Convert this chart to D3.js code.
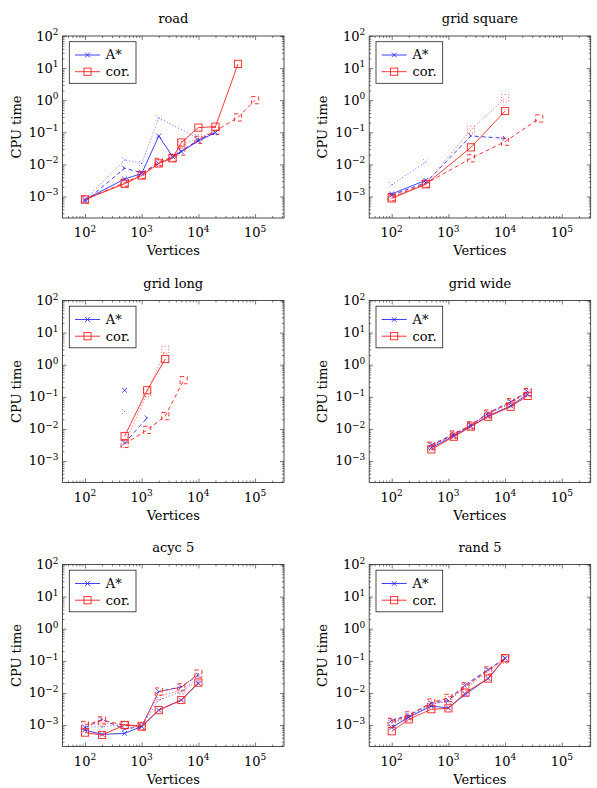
<!DOCTYPE html>
<html>
<head>
<meta charset="utf-8">
<script src="https://cdn.jsdelivr.net/npm/d3@7"></script>
<style>
body { margin: 0; background: #fff; }
text { font-family: "DejaVu Serif", serif; fill: #000; }
</style>
</head>
<body>
<svg id="chart"></svg>
<script>
// panel titles and legend
var titles = ["road", "grid square", "grid long", "grid wide", "acyc 5", "rand 5"];
var legendNames = ["A*", "cor."];

// road
var roadX = [100, 500, 1000, 2000, 3500, 5000, 10000, 20000, 50000, 100000];
var roadAstar       = [8e-4, 3.5e-3, 5.2e-3, 0.077, 0.0175, 0.025, 0.054, 0.098, null, null];
var roadCor         = [8.1e-4, 2.5e-3, 4.5e-3, 0.0107, 0.0155, 0.048, 0.14, 0.15, 13.5, null];
var roadAstarDash   = [7e-4, 7.6e-3, 5.5e-3, 0.0107, 0.018, 0.026, 0.058, 0.1, null, null];
var roadAstarDot    = [8e-4, 0.0138, 0.0107, 0.28, null, null, 0.065, null, null, null];
var roadCorDash     = [8e-4, 2.7e-3, 4.7e-3, 0.012, 0.016, 0.025, 0.058, 0.11, 0.29, 1.0];
var roadCorDot      = [8e-4, 2.6e-3, 4.6e-3, 0.011, 0.016, 0.04, 0.065, 0.11, null, null];

// grid square
var sqX = [100, 400, 2500, 10000, 40000];
var sqAstar     = [1.2e-3, 3.2e-3, null, null, null];
var sqCor       = [8.7e-4, 2.4e-3, 0.034, 0.46, null];
var sqAstarDash = [1.1e-3, 2.7e-3, 0.077, 0.065, null];
var sqAstarDot  = [2.3e-3, 0.012, null, null, null];
var sqCorDash   = [9.5e-4, 2.5e-3, 0.0155, 0.051, 0.27];
var sqCorDot    = [9.5e-4, 2.5e-3, 0.12, 1.15, null];

// grid long
var longX = [500, 1250, 2600, 5500];
var longAstar     = [0.16, null, null, null];
var longCor       = [6e-3, 0.16, 1.5, null];
var longAstarDash = [3.6e-3, 0.022, null, null];
var longAstarDot  = [0.035, null, null, null];
var longCorDash   = [3.4e-3, 9.3e-3, 0.025, 0.33];
var longCorDot    = [3.4e-3, 0.13, 2.9, null];

// grid wide
var wideX = [500, 1250, 2500, 5000, 12500, 25000];
var wideAstar     = [2.6e-3, 6e-3, 0.012, 0.025, 0.052, 0.12];
var wideCor       = [2.3e-3, 5.7e-3, 0.0118, 0.024, 0.049, 0.107];
var wideAstarDash = [3.2e-3, 6.9e-3, 0.0132, 0.031, 0.071, 0.145];
var wideAstarDot  = [3e-3, 6.5e-3, 0.013, 0.029, 0.065, 0.14];
var wideCorDash   = [3e-3, 6.7e-3, 0.013, 0.03, 0.068, 0.14];
var wideCorDot    = [2.8e-3, 6.3e-3, 0.0125, 0.028, 0.062, 0.13];

// acyc 5
var acycX = [100, 200, 500, 1000, 2000, 5000, 10000];
var acycAstar     = [6.9e-4, 5.1e-4, 5.5e-4, 9e-4, 2.9e-3, 6e-3, 0.02];
var acycCor       = [5.8e-4, 4.9e-4, 1e-3, 9e-4, 2.9e-3, 6e-3, 0.021];
var acycAstarDash = [8.3e-4, 1.5e-3, 7.5e-4, 9e-4, 0.011, 0.0155, 0.036];
var acycAstarDot  = [8.7e-4, 8.7e-4, 1.05e-3, 9e-4, 6e-3, 0.011, 0.025];
var acycCorDash   = [1e-3, 1.4e-3, 1e-3, 9e-4, 0.011, 0.015, 0.04];
var acycCorDot    = [9e-4, 1.2e-3, 1e-3, 9.5e-4, 8e-3, 0.012, 0.03];

// rand 5
var randX = [100, 200, 500, 1000, 2000, 5000, 10000];
var randAstar     = [8.3e-4, 1.75e-3, 3.9e-3, 3.4e-3, 9.1e-3, 0.028, 0.12];
var randCor       = [6.4e-4, 1.5e-3, 3.1e-3, 3.3e-3, 0.0102, 0.028, 0.12];
var randAstarDash = [1.4e-3, 2e-3, 4.8e-3, 5.8e-3, 0.018, 0.053, 0.12];
var randAstarDot  = [1.2e-3, 1.8e-3, 4.5e-3, 5.5e-3, 0.016, 0.05, 0.12];
var randCorDash   = [1.25e-3, 2e-3, 5e-3, 7e-3, 0.016, 0.05, 0.12];
var randCorDot    = [1.1e-3, 1.7e-3, 4.3e-3, 6e-3, 0.014, 0.045, 0.11];

// order of series in each panel: A*, cor., A* dashed, A* dotted, cor. dashed, cor. dotted
var panels = [
  [roadX, [roadAstar, roadCor, roadAstarDash, roadAstarDot, roadCorDash, roadCorDot]],
  [sqX,   [sqAstar, sqCor, sqAstarDash, sqAstarDot, sqCorDash, sqCorDot]],
  [longX, [longAstar, longCor, longAstarDash, longAstarDot, longCorDash, longCorDot]],
  [wideX, [wideAstar, wideCor, wideAstarDash, wideAstarDot, wideCorDash, wideCorDot]],
  [acycX, [acycAstar, acycCor, acycAstarDash, acycAstarDot, acycCorDash, acycCorDot]],
  [randX, [randAstar, randCor, randAstarDash, randAstarDot, randCorDash, randCorDot]]
];

var blue = "#2b2bff", red = "#ff2020";
var styles = [
  {color: blue, mark: "x", dash: null},
  {color: red,  mark: "sq", dash: null},
  {color: blue, mark: "x", dash: "4,3"},
  {color: blue, mark: "x", dash: "0.8,2.4"},
  {color: red,  mark: "sq", dash: "4,3"},
  {color: red,  mark: "sq", dash: "0.8,2.4"}
];

var svgWidth = 597, svgHeight = 788;
var svg = d3.select("#chart").attr("width", svgWidth).attr("height", svgHeight);

var colLeft = [62.5, 369.2], rowTop = [36, 300.5, 564.5];
var plotW = 221.5, plotH = 182;

var x = d3.scaleLog().domain([Math.pow(10, 1.603), Math.pow(10, 5.51)]).range([0, plotW]);
var y = d3.scaleLog().domain([Math.pow(10, -3.67), 100]).range([plotH, 0]);

function logTicks(scale) {
  var dom = scale.domain(), major = [], minor = [];
  for (var e = Math.floor(Math.log10(dom[0])); e <= Math.ceil(Math.log10(dom[1])); e++) {
    for (var k = 1; k < 10; k++) {
      var v = k * Math.pow(10, e);
      if (v < dom[0] || v > dom[1]) continue;
      if (k === 1) major.push(v); else minor.push(v);
    }
  }
  return {major: major, minor: minor};
}
var xt = logTicks(x), yt = logTicks(y);

function drawMark(g, type, color, dash) {
  if (type === "x") {
    g.append("path").attr("d", "M-2.4,-2.4L2.4,2.4M-2.4,2.4L2.4,-2.4");
  } else {
    g.append("rect").attr("x", -3.6).attr("y", -3.6).attr("width", 7.2).attr("height", 7.2);
  }
  g.selectAll("path,rect")
    .attr("fill", "none")
    .attr("stroke", color)
    .attr("stroke-width", 0.9)
    .attr("stroke-dasharray", dash);
}

function addAxis(g, axis, tr) {
  var a = g.append("g").attr("transform", tr).call(axis);
  a.select(".domain").remove();
  a.selectAll("line").attr("stroke", "#222").attr("stroke-width", 0.6);
  a.selectAll("text").remove();
}

function supLabel(sel, exp) {
  sel.append("tspan").text("10");
  sel.append("tspan").attr("font-size", 9).attr("dy", -5.5).text(exp < 0 ? "\u2212" + (-exp) : exp);
}

panels.forEach(function(p, i) {
  var xs = p[0], series = p[1];
  var left = colLeft[i % 2], top = rowTop[Math.floor(i / 2)];
  var g = svg.append("g").attr("transform", "translate(" + left + "," + top + ")");

  // ticks on all four sides, pointing inward
  [[xt.major, 4], [xt.minor, 2]].forEach(function(t) {
    addAxis(g, d3.axisBottom(x).tickValues(t[0]).tickSize(-t[1]), "translate(0," + plotH + ")");
    addAxis(g, d3.axisTop(x).tickValues(t[0]).tickSize(-t[1]), "translate(0,0)");
  });
  [[yt.major, 4], [yt.minor, 2]].forEach(function(t) {
    addAxis(g, d3.axisLeft(y).tickValues(t[0]).tickSize(-t[1]), "translate(0,0)");
    addAxis(g, d3.axisRight(y).tickValues(t[0]).tickSize(-t[1]), "translate(" + plotW + ",0)");
  });

  g.append("rect").attr("width", plotW).attr("height", plotH)
    .attr("fill", "none").attr("stroke", "#222").attr("stroke-width", 0.8);

  // tick labels
  xt.major.forEach(function(v) {
    var t = g.append("text").attr("x", x(v)).attr("y", plotH + 19)
      .attr("text-anchor", "middle").attr("font-size", 13);
    supLabel(t, Math.round(Math.log10(v)));
  });
  yt.major.forEach(function(v) {
    var t = g.append("text").attr("x", -4).attr("y", y(v) + 4.5)
      .attr("text-anchor", "end").attr("font-size", 13);
    supLabel(t, Math.round(Math.log10(v)));
  });

  g.append("text").attr("x", plotW / 2).attr("y", -13).attr("text-anchor", "middle")
    .attr("font-size", 13).text(titles[i]);
  g.append("text").attr("x", plotW / 2).attr("y", plotH + 37).attr("text-anchor", "middle")
    .attr("font-size", 13).text("Vertices");
  g.append("text").attr("transform", "translate(-42," + (plotH / 2) + ") rotate(-90)")
    .attr("text-anchor", "middle").attr("font-size", 13).text("CPU time");

  var line = d3.line().x(function(d) { return x(d[0]); }).y(function(d) { return y(d[1]); });

  // dashed/dotted first, solid on top
  [2, 3, 4, 5, 0, 1].forEach(function(s) {
    var st = styles[s];
    var pts = xs.map(function(v, j) { return [v, series[s][j]]; })
      .filter(function(d) { return d[1] != null; });
    g.append("path").datum(pts).attr("d", line)
      .attr("fill", "none").attr("stroke", st.color).attr("stroke-width", 0.9)
      .attr("stroke-dasharray", st.dash);
    pts.forEach(function(d) {
      var m = g.append("g").attr("transform", "translate(" + x(d[0]) + "," + y(d[1]) + ")");
      drawMark(m, st.mark, st.color, st.dash);
    });
  });

  // legend
  var lg = g.append("g").attr("transform", "translate(6.8,5.7)");
  lg.append("rect").attr("width", 66.7).attr("height", 41.6)
    .attr("fill", "#fff").attr("stroke", "#222").attr("stroke-width", 0.8);
  legendNames.forEach(function(name, k) {
    var st = styles[k], yy = 13.3 + k * 16.7;
    lg.append("line").attr("x1", 5.7).attr("x2", 30.7).attr("y1", yy).attr("y2", yy)
      .attr("stroke", st.color).attr("stroke-width", 0.9);
    drawMark(lg.append("g").attr("transform", "translate(18.2," + yy + ")"), st.mark, st.color, null);
    lg.append("text").attr("x", 36.5).attr("y", yy + 4.5).attr("font-size", 13).text(name);
  });
});
</script>
</body>
</html>
